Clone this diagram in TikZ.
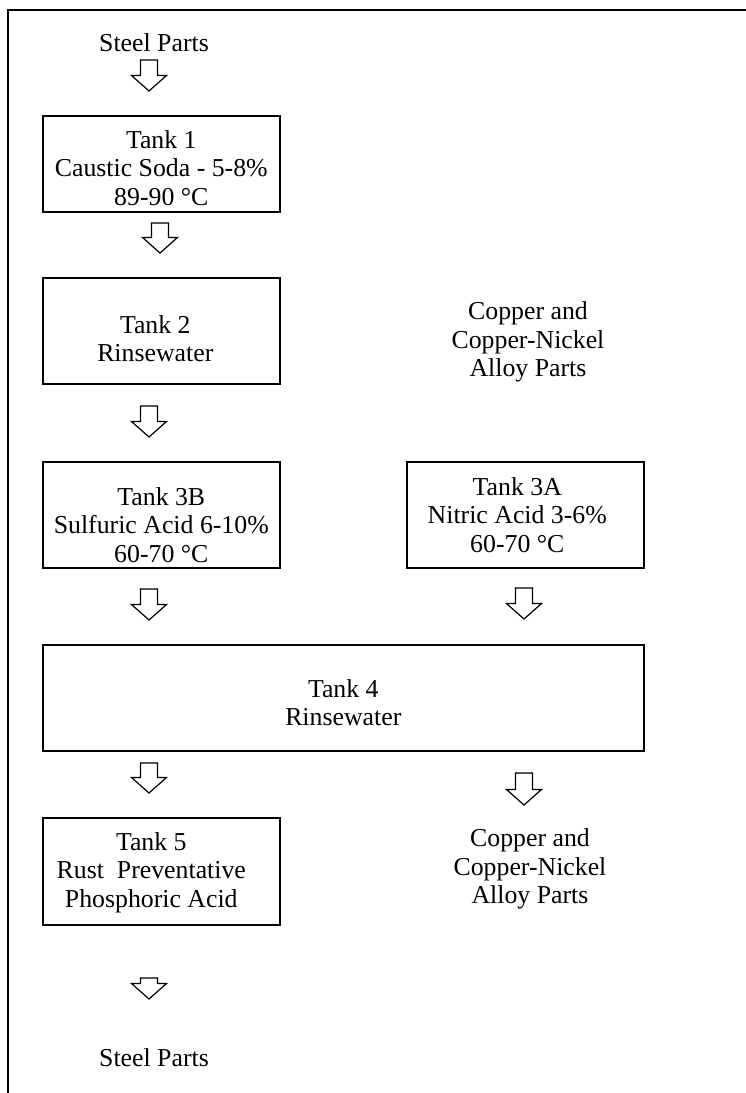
\documentclass[tikz,border=0pt]{standalone}
\usepackage{fontspec}
\setmainfont{Liberation Serif}
\tikzset{
  tank/.style={draw, line width=1.6pt, inner sep=0pt, anchor=north west},
  flowtext/.style={inner sep=0pt, align=center, font=\fontsize{25.8}{28.5}\selectfont},
  blockarr/.style={line width=1.2pt, line join=miter, fill=white},
  frame/.style={line width=1.8pt}
}
\def\blockarrow(#1,#2,#3){\draw[blockarr] (#1,#2) ++(-8.5,0) -- ++(17,0) -- ++(0,#3-15.5) -- ++(9,0) -- ++(-17.5,15.5) -- ++(-17.5,-15.5) -- ++(9,0) -- cycle;}

\begin{document}
\begin{tikzpicture}[x=1pt,y=-1pt]
			\useasboundingbox (0,0) rectangle (746,1093);
			%%%%% FRAME %%%%%
			\draw[frame] (746,10) -- (8,10) -- (8,1093);
			
			%%%%% STEEL LINE %%%%%
			\node[flowtext] (steelin) at (154,43) {Steel Parts};
			\blockarrow(149,60,31);
			\node[tank, minimum width=237pt, minimum height=96pt] (tank1) at (42,115) {};
			\node[flowtext] (tank1txt) at ([shift={(0,4)}]tank1.center) {Tank 1\\Caustic Soda - 5-8\%\\89-90 °C};
			\blockarrow(160,223,30);
			\node[tank, minimum width=237pt, minimum height=106pt] (tank2) at (42,277) {};
			\node[flowtext] (tank2txt) at ([shift={(-6,8)}]tank2.center) {Tank 2\\Rinsewater};
			\blockarrow(149,406,31);
			\node[tank, minimum width=237pt, minimum height=106pt] (tank3b) at (42,461) {};
			\node[flowtext] (tank3btxt) at ([shift={(0,10)}]tank3b.center) {Tank 3B\\Sulfuric Acid 6-10\%\\60-70 °C};
			\blockarrow(149,589,31);
			
			%%%%% COPPER LINE %%%%%
			\node[flowtext] (cuin) at (528,342) {Copper and\\Copper-Nickel\\Alloy Parts};
			\node[tank, minimum width=237pt, minimum height=106pt] (tank3a) at (406,461) {};
			\node[flowtext] (tank3atxt) at ([shift={(-8,0)}]tank3a.center) {Tank 3A\\Nitric Acid 3-6\%\\60-70 °C};
			\blockarrow(524,588,31);
			
			%%%%% COMMON RINSE %%%%%
			\node[tank, minimum width=601pt, minimum height=106pt] (tank4) at (42,644) {};
			\node[flowtext] (tank4txt) at ([shift={(0,5)}]tank4.center) {Tank 4\\Rinsewater};
			\blockarrow(149,763,30);
			\blockarrow(524,773,32);
			
			\node[tank, minimum width=237pt, minimum height=107pt] (tank5) at (42,817) {};
			\node[flowtext] (tank5txt) at ([shift={(-10,1)}]tank5.center) {Tank 5\\Rust~~Preventative\\Phosphoric Acid};
			\node[flowtext] (cuout) at (530,869) {Copper and\\Copper-Nickel\\Alloy Parts};
			
			\blockarrow(149,978,21);
			\node[flowtext] (steelout) at (154,1058) {Steel Parts};
\end{tikzpicture}
\end{document}
